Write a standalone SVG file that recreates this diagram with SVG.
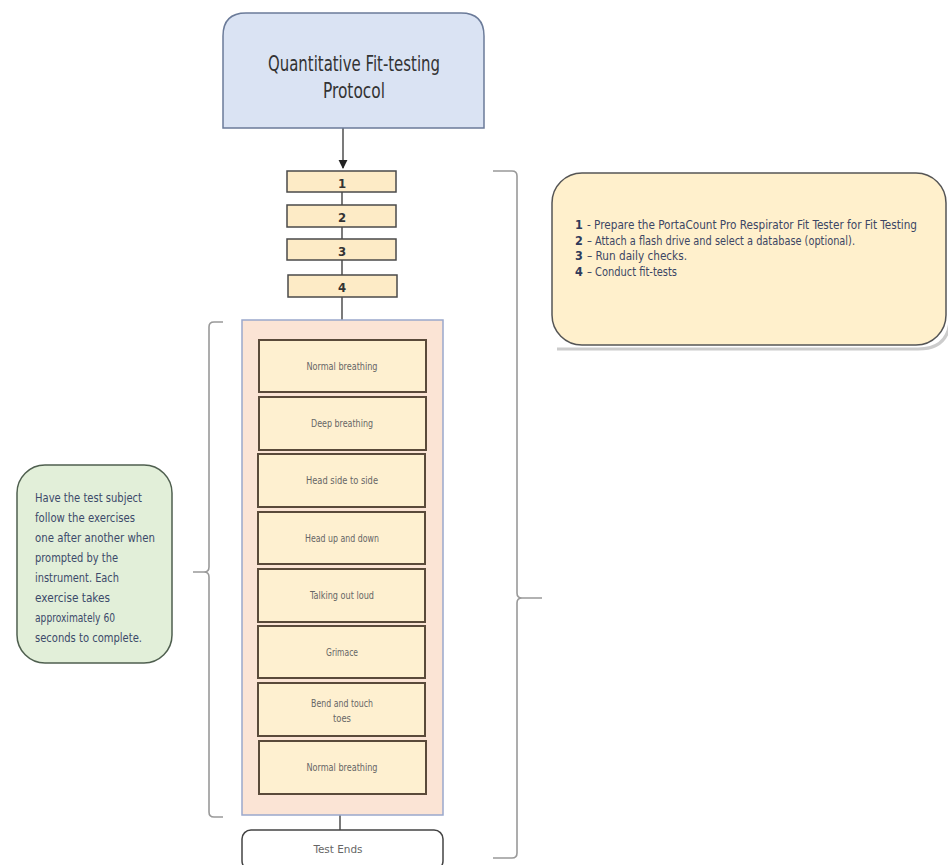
<svg xmlns="http://www.w3.org/2000/svg" width="948" height="865" viewBox="0 0 948 865">
<defs>
<style>
.t{font-family:"Liberation Sans Narrow","DejaVu Sans Condensed","Liberation Sans",sans-serif;}
.step{fill:#fdebc6;stroke:#4a4a4a;stroke-width:1.5;}
.ex{fill:#fef0d0;stroke:#5a4a3a;stroke-width:2;}
.exl{font-size:11px;fill:#666;text-anchor:middle;}
.num{font-size:13px;fill:#333;text-anchor:middle;font-weight:bold;}
.rb{font-size:11.5px;fill:#3c4664;}
.rn{font-size:12.5px;fill:#2f3a5a;font-weight:bold;}
.gt{font-size:13px;fill:#3c4a6a;}
.conn{stroke:#333;stroke-width:1.3;fill:none;}
.brace{stroke:#999;stroke-width:1.6;fill:none;}
</style>
<marker id="arr" viewBox="0 0 10 10" refX="9" refY="5" markerWidth="7" markerHeight="7" orient="auto">
<path d="M0,0 L10,5 L0,10 z" fill="#222"/>
</marker>
</defs>
<rect width="948" height="865" fill="#fff"/>

<g id="connectors">
<line class="conn" x1="343" y1="128" x2="343" y2="168" marker-end="url(#arr)"/>
<line class="conn" x1="342" y1="192" x2="342" y2="205"/>
<line class="conn" x1="342" y1="227" x2="342" y2="239"/>
<line class="conn" x1="342" y1="260" x2="342" y2="275"/>
<line class="conn" x1="342" y1="297" x2="342" y2="320"/>
<line class="conn" x1="340" y1="815" x2="340" y2="830"/>
</g>

<g id="braces">
<path class="brace" d="M493,171 L512,171 Q517,171 517,176 L517,593 Q517,598 522,598 L542,598 M522,598 Q517,598 517,603 L517,853 Q517,858 512,858 L493,858"/>
<path class="brace" d="M223,322 L214,322 Q209,322 209,327 L209,567 Q209,572 204,572 L193,572 M204,572 Q209,572 209,577 L209,812 Q209,817 214,817 L223,817"/>
</g>

<g id="title">
<path d="M223,128 L223,36 Q223,13 246,13 L461,13 Q484,13 484,36 L484,128 Z" fill="#dae3f3" stroke="#6b7b99" stroke-width="1.5"/>
<text class="t" x="354" y="71" font-size="22" fill="#333" text-anchor="middle" textLength="172" lengthAdjust="spacingAndGlyphs">Quantitative Fit-testing</text>
<text class="t" x="354" y="98" font-size="22" fill="#333" text-anchor="middle" textLength="62" lengthAdjust="spacingAndGlyphs">Protocol</text>
</g>

<g id="step1"><rect class="step" x="287" y="171" width="109" height="21"/><text class="t num" x="342" y="188">1</text></g>
<g id="step2"><rect class="step" x="287" y="205" width="109" height="22"/><text class="t num" x="342" y="222">2</text></g>
<g id="step3"><rect class="step" x="287" y="239" width="109" height="21"/><text class="t num" x="342" y="256">3</text></g>
<g id="step4"><rect class="step" x="288" y="275" width="109" height="22"/><text class="t num" x="342" y="292">4</text></g>

<g id="container">
<rect x="242" y="320" width="201" height="495" fill="#fbe4d5" stroke="#9aa8cc" stroke-width="1.5"/>
</g>

<g id="ex1"><rect class="ex" x="259" y="340" width="167" height="52"/><text class="t exl" x="342" y="370" textLength="71" lengthAdjust="spacingAndGlyphs">Normal  breathing</text></g>
<g id="ex2"><rect class="ex" x="259" y="397" width="167" height="53"/><text class="t exl" x="342" y="427" textLength="62" lengthAdjust="spacingAndGlyphs">Deep breathing</text></g>
<g id="ex3"><rect class="ex" x="258" y="454" width="167" height="53"/><text class="t exl" x="342" y="484" textLength="72" lengthAdjust="spacingAndGlyphs">Head side to side</text></g>
<g id="ex4"><rect class="ex" x="258" y="512" width="167" height="52"/><text class="t exl" x="342" y="542" textLength="74" lengthAdjust="spacingAndGlyphs">Head up and down</text></g>
<g id="ex5"><rect class="ex" x="258" y="569" width="167" height="53"/><text class="t exl" x="342" y="599" textLength="64" lengthAdjust="spacingAndGlyphs">Talking  out loud</text></g>
<g id="ex6"><rect class="ex" x="258" y="626" width="167" height="52"/><text class="t exl" x="342" y="656" textLength="32" lengthAdjust="spacingAndGlyphs">Grimace</text></g>
<g id="ex7"><rect class="ex" x="258" y="683" width="167" height="53"/><text class="t exl" x="342" y="707" textLength="62" lengthAdjust="spacingAndGlyphs">Bend and touch</text><text class="t exl" x="342" y="722" textLength="18" lengthAdjust="spacingAndGlyphs">toes</text></g>
<g id="ex8"><rect class="ex" x="259" y="741" width="167" height="53"/><text class="t exl" x="342" y="771" textLength="71" lengthAdjust="spacingAndGlyphs">Normal  breathing</text></g>

<g id="end">
<rect x="242" y="830" width="201" height="40" rx="9" fill="#fff" stroke="#444" stroke-width="1.5"/>
<text class="t" x="338" y="853" font-size="11" fill="#666" text-anchor="middle" textLength="49" lengthAdjust="spacingAndGlyphs">Test Ends</text>
</g>

<g id="notes">
<path d="M557,349 L918,349 Q950,349 950,317" fill="none" stroke="#ccc" stroke-width="3"/>
<rect x="552" y="173" width="394" height="172" rx="30" fill="#fff0cc" stroke="#555" stroke-width="1.5"/>
<text class="t rn" x="575" y="229">1</text>
<text class="t rb" x="587" y="229" textLength="330" lengthAdjust="spacingAndGlyphs">-  Prepare the PortaCount  Pro Respirator  Fit Tester for Fit Testing</text>
<text class="t rn" x="575" y="244.5">2</text>
<text class="t rb" x="587" y="244.5" textLength="268" lengthAdjust="spacingAndGlyphs">– Attach  a flash drive and select a database  (optional).</text>
<text class="t rn" x="575" y="260">3</text>
<text class="t rb" x="587" y="260" textLength="100" lengthAdjust="spacingAndGlyphs">– Run daily checks.</text>
<text class="t rn" x="575" y="275.5">4</text>
<text class="t rb" x="587" y="275.5" textLength="90" lengthAdjust="spacingAndGlyphs">– Conduct fit-tests</text>
</g>

<g id="exercise-note">
<rect x="17" y="465" width="155" height="198" rx="28" fill="#e2efd9" stroke="#4f5f4f" stroke-width="1.5"/>
<text class="t gt" x="35" y="502" textLength="107" lengthAdjust="spacingAndGlyphs">Have the test subject</text>
<text class="t gt" x="35" y="522" textLength="100" lengthAdjust="spacingAndGlyphs">follow the exercises</text>
<text class="t gt" x="35" y="542" textLength="120" lengthAdjust="spacingAndGlyphs">one after another  when</text>
<text class="t gt" x="35" y="562" textLength="83" lengthAdjust="spacingAndGlyphs">prompted by the</text>
<text class="t gt" x="35" y="582" textLength="84" lengthAdjust="spacingAndGlyphs">instrument. Each</text>
<text class="t gt" x="35" y="602" textLength="75" lengthAdjust="spacingAndGlyphs">exercise takes</text>
<text class="t gt" x="35" y="622" textLength="80" lengthAdjust="spacingAndGlyphs">approximately  60</text>
<text class="t gt" x="35" y="642" textLength="107" lengthAdjust="spacingAndGlyphs">seconds to complete.</text>
</g>
</svg>
